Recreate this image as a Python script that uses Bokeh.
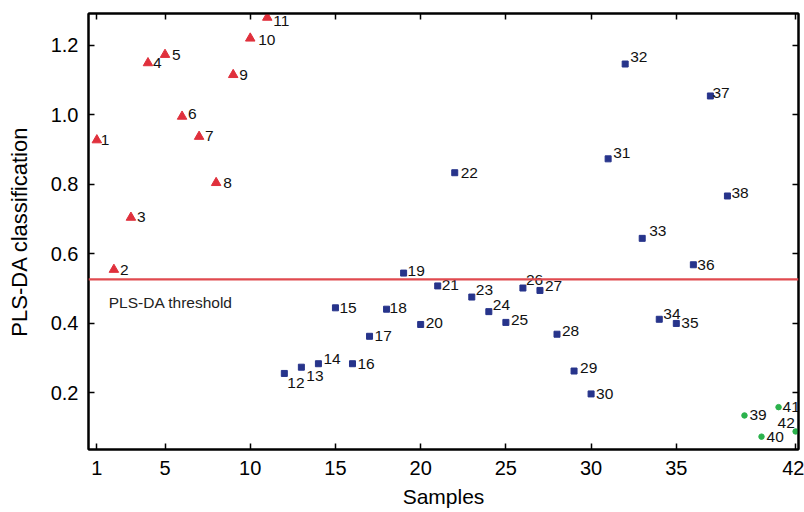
from bokeh.plotting import figure
from bokeh.models import (ColumnDataSource, Span, Label, LinearAxis, FixedTicker,
                          CustomJSTickFormatter)
from bokeh.core.properties import value
from bokeh.embed import file_html
from bokeh.resources import INLINE

# ---------------- data ----------------
samples_red = [1, 2, 3, 4, 5, 6, 7, 8, 9, 10, 11]
values_red = [0.927, 0.554, 0.704, 1.149, 1.173, 0.995, 0.937, 0.804, 1.115, 1.220, 1.280]

samples_blue = [12, 13, 14, 15, 16, 17, 18, 19, 20, 21, 22, 23, 24, 25,
                26, 27, 28, 29, 30, 31, 32, 33, 34, 35, 36, 37, 38]
values_blue = [0.255, 0.273, 0.283, 0.444, 0.283, 0.362, 0.440, 0.544, 0.396, 0.507,
               0.833, 0.475, 0.433, 0.402, 0.501, 0.494, 0.368, 0.262, 0.196, 0.873,
               1.146, 0.644, 0.411, 0.399, 0.568, 1.054, 0.766]

samples_green = [39, 40, 41, 42]
values_green = [0.134, 0.073, 0.158, 0.088]

threshold = 0.526
threshold_label = "PLS-DA threshold"

x_ticks = [1, 5, 10, 15, 20, 25, 30, 35, 42]
x_tick_labels = ["1", "5", "10", "15", "20", "25", "30", "35", "42"]
y_ticks = [0.2, 0.4, 0.6, 0.8, 1.0, 1.2]
y_tick_labels = ["0.2", "0.4", "0.6", "0.8", "1.0", "1.2"]

x_title = "Samples"
y_title = "PLS-DA classification"

# ---------------- styles (label pixel offsets) ----------------
lab_dx = {1: 4, 2: 6, 3: 6, 4: 5, 5: 7, 6: 6, 7: 6, 8: 7, 9: 6, 10: 8, 11: 6,
          12: 3, 13: 5, 14: 5, 15: 4, 16: 5, 17: 5, 18: 3, 19: 4, 20: 5, 21: 4,
          22: 6, 23: 4, 24: 4, 25: 5, 26: 3, 27: 5, 28: 5, 29: 6, 30: 5, 31: 5,
          32: 5, 33: 7, 34: 4, 35: 5, 36: 4, 37: 2, 38: 4, 39: 5, 40: 5, 41: 4, 42: -18}
lab_dy = {1: 0, 2: 0, 3: -1, 4: 0, 5: 0, 6: -2, 7: -1, 8: 0, 9: 0, 10: 2, 11: 4,
          12: 10, 13: 9, 14: -5, 15: 0, 16: 0, 17: 0, 18: -1, 19: -2, 20: -1, 21: -1,
          22: 0, 23: -7, 24: -7, 25: -2, 26: -8, 27: -4, 28: -3, 29: -3, 30: 0, 31: -6,
          32: -7, 33: -7, 34: -5, 35: 0, 36: 0, 37: -3, 38: -3, 39: 0, 40: 0, 41: 0, 42: -8}

FONT = "Liberation Sans"
RED = "#e0303c"
BLUE = "#27348b"
GREEN = "#2bb24c"

p = figure(width=804, height=512, x_range=(0.51, 42.17), y_range=(0.036, 1.2915),
           output_backend="svg", toolbar_location=None,
           min_border_left=88, min_border_top=13, min_border_right=6, min_border_bottom=63)
p.grid.visible = False
p.outline_line_color = "black"
p.outline_line_width = 2
p.background_fill_color = "white"
p.border_fill_color = "white"

def style_axis(ax, ticks, labels=None, show_labels=True):
    ax.ticker = FixedTicker(ticks=ticks)
    ax.major_tick_in = 6
    ax.major_tick_out = 0
    ax.minor_tick_line_color = None
    ax.major_tick_line_color = "black"
    ax.major_tick_line_width = 1.5
    ax.axis_line_color = "black"
    ax.axis_line_width = 2
    if show_labels:
        ax.major_label_overrides = {t: l for t, l in zip(ticks, labels)}
        ax.major_label_text_font = FONT
        ax.major_label_text_font_size = "20px"
        ax.major_label_text_color = "black"
        ax.axis_label_text_font = FONT
        ax.axis_label_text_font_size = "21px"
        ax.axis_label_text_font_style = "normal"
        ax.axis_label_text_color = "black"
    else:
        ax.formatter = CustomJSTickFormatter(code="return ''")
        ax.major_label_text_font_size = "0px"
        ax.major_label_standoff = 0

style_axis(p.xaxis[0], x_ticks, x_tick_labels)
style_axis(p.yaxis[0], y_ticks, y_tick_labels)
p.xaxis[0].axis_label = x_title
p.yaxis[0].axis_label = y_title
p.yaxis[0].axis_label_text_font_size = "22px"
p.xaxis[0].major_label_standoff = 11
p.xaxis[0].axis_label_standoff = 7
p.yaxis[0].major_label_standoff = 10
p.yaxis[0].axis_label_standoff = 16

top_ax = LinearAxis()
right_ax = LinearAxis()
style_axis(top_ax, x_ticks, show_labels=False)
style_axis(right_ax, y_ticks, show_labels=False)
p.add_layout(top_ax, "above")
p.add_layout(right_ax, "right")

p.add_layout(Span(location=threshold, dimension="width", line_color="#e04a4f", line_width=2.2))
p.add_layout(Label(x=1.7, y=0.46, text=threshold_label, text_font=FONT, text_font_size="15.5px",
                   text_baseline="middle", text_color="#222222"))

p.scatter(samples_red, values_red, marker="triangle", size=9.5, fill_color=RED, line_color=RED)
p.scatter(samples_blue, values_blue, marker="square", size=6, fill_color=BLUE, line_color=BLUE)
p.scatter(samples_green, values_green, marker="circle", size=5.5, fill_color=GREEN, line_color=GREEN)

all_s = samples_red + samples_blue + samples_green
all_v = values_red + values_blue + values_green
src = ColumnDataSource(dict(x=all_s, y=all_v, t=[str(s) for s in all_s],
                            dx=[lab_dx[s] for s in all_s], dy=[lab_dy[s] for s in all_s]))
p.text(x="x", y="y", text="t", x_offset="dx", y_offset="dy", source=src,
       text_font=value(FONT), text_font_size="15.5px", text_baseline="middle",
       text_align="left", text_color="#111111")

open("out.html", "w").write(file_html(p, INLINE))
